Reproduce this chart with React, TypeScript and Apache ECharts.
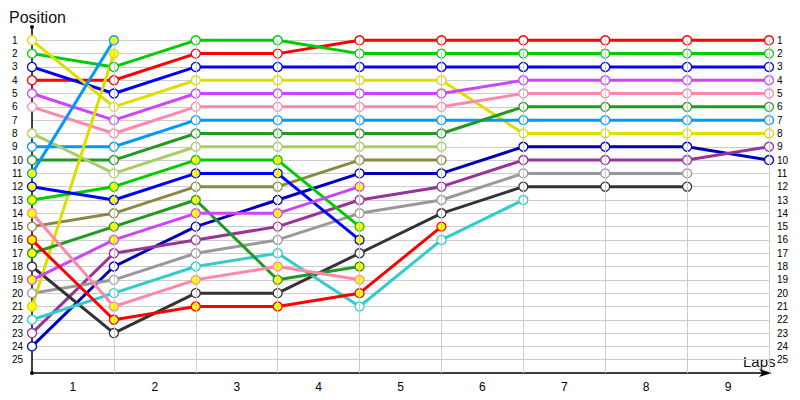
import React, { useEffect, useRef } from 'react';
import * as echarts from 'echarts';

// lap labels (shown between the grid lines) and the points where positions are recorded
const laps = ['1', '2', '3', '4', '5', '6', '7', '8', '9'];
const checkpoints = [0, 1, 2, 3, 4, 5, 6, 7, 8, 9];
const positionTicks = Array.from({ length: 25 }, (_, i) => i + 1);

// position of each car at every checkpoint (null = no longer in the race)
const redCar = [4, 4, 2, 2, 1, 1, 1, 1, 1, 1];
const greenCar = [2, 3, 1, 1, 2, 2, 2, 2, 2, 2];
const blueCar = [3, 5, 3, 3, 3, 3, 3, 3, 3, 3];
const yellowCar = [1, 6, 4, 4, 4, 4, 8, 8, 8, 8];
const magentaCar = [5, 7, 5, 5, 5, 5, 4, 4, 4, 4];
const pinkCar = [6, 8, 6, 6, 6, 6, 5, 5, 5, 5];
const skyCar = [9, 9, 7, 7, 7, 7, 7, 7, 7, 7];
const forestCar = [10, 10, 8, 8, 8, 8, 6, 6, 6, 6];
const limeCar = [8, 11, 9, 9, 9, 9, null, null, null, null];
const oliveCar = [15, 14, 12, 12, 10, 10, null, null, null, null];
const navyCar = [24, 18, 15, 13, 11, 11, 9, 9, 9, 10];
const violetCar = [23, 17, 16, 15, 13, 12, 10, 10, 10, 9];
const greyCar = [20, 19, 17, 16, 14, 13, 11, 11, 11, null];
const charcoalCar = [18, 23, 20, 20, 17, 14, 12, 12, 12, null];
const cyanCar = [22, 20, 18, 17, 21, 16, 13, null, null, null];
// second-class cars (drawn with filled markers)
const skyCar2 = [11, 1, null, null, null, null, null, null, null, null];
const yellowCar2 = [21, 2, null, null, null, null, null, null, null, null];
const greenCar2 = [13, 12, 10, 10, 15, null, null, null, null, null];
const blueCar2 = [12, 13, 11, 11, 16, null, null, null, null, null];
const forestCar2 = [17, 15, 13, 19, 18, null, null, null, null, null];
const magentaCar2 = [19, 16, 14, 14, 12, null, null, null, null, null];
const pinkCar2 = [14, 21, 19, 18, 19, null, null, null, null, null];
const redCar2 = [16, 22, 21, 21, 20, 15, null, null, null, null];

const cars = [
  { name: 'Car 1', pos: redCar, color: '#ff0000', filled: false },
  { name: 'Car 2', pos: greenCar, color: '#00cc00', filled: false },
  { name: 'Car 3', pos: blueCar, color: '#0000ff', filled: false },
  { name: 'Car 4', pos: yellowCar, color: '#dddd00', filled: false },
  { name: 'Car 5', pos: magentaCar, color: '#cc44ff', filled: false },
  { name: 'Car 6', pos: pinkCar, color: '#ff88aa', filled: false },
  { name: 'Car 7', pos: skyCar, color: '#0099ff', filled: false },
  { name: 'Car 8', pos: forestCar, color: '#229922', filled: false },
  { name: 'Car 9', pos: limeCar, color: '#aacc66', filled: false },
  { name: 'Car 10', pos: oliveCar, color: '#888844', filled: false },
  { name: 'Car 11', pos: navyCar, color: '#0000bb', filled: false },
  { name: 'Car 12', pos: violetCar, color: '#993399', filled: false },
  { name: 'Car 13', pos: greyCar, color: '#999999', filled: false },
  { name: 'Car 14', pos: charcoalCar, color: '#333333', filled: false },
  { name: 'Car 15', pos: cyanCar, color: '#33cccc', filled: false },
  { name: 'Car 16', pos: skyCar2, color: '#0099ff', filled: true },
  { name: 'Car 17', pos: yellowCar2, color: '#dddd00', filled: true },
  { name: 'Car 18', pos: greenCar2, color: '#00cc00', filled: true },
  { name: 'Car 19', pos: blueCar2, color: '#0000ff', filled: true },
  { name: 'Car 20', pos: forestCar2, color: '#229922', filled: true },
  { name: 'Car 21', pos: magentaCar2, color: '#cc44ff', filled: true },
  { name: 'Car 22', pos: pinkCar2, color: '#ff88aa', filled: true },
  { name: 'Car 23', pos: redCar2, color: '#ff0000', filled: true },
];

const FONT = 'Liberation Sans';

const App: React.FC = () => {
  const chartRef = useRef<HTMLDivElement>(null);

  useEffect(() => {
    // the chart is laid out in page pixels, so drop the default body margin
    document.body.style.margin = '0';
    const chart = echarts.init(chartRef.current!, null, { renderer: 'svg' });

    const lineSeries = cars.map((c) => ({
      name: c.name,
      type: 'line',
      xAxisIndex: 0,
      yAxisIndex: 0,
      data: c.pos
        .map((p, i) => (p == null ? null : [checkpoints[i], p]))
        .filter((d) => d !== null),
      symbol: 'circle',
      symbolSize: 9,
      showAllSymbol: true,
      lineStyle: { color: c.color, width: 3 },
      itemStyle: {
        color: c.filled ? '#ffff00' : '#ffffff',
        borderColor: c.color,
        borderWidth: 1.3,
      },
      z: 3,
    }));

    // vertical grid lines, from position 1 down to the axis
    const gridSeries = {
      name: 'grid',
      type: 'line',
      data: [],
      silent: true,
      z: 1,
      markLine: {
        silent: true,
        symbol: ['none', 'none'],
        label: { show: false },
        lineStyle: { color: '#cccccc', width: 1, type: 'solid' },
        data: checkpoints.slice(1).map((x) => [{ coord: [x, 1] }, { coord: [x, 26] }]),
      },
    };

    const option = {
      animation: false,
      textStyle: { fontFamily: FONT },
      title: {
        text: 'Position',
        left: 4,
        top: 4,
        textStyle: { fontFamily: FONT, fontSize: 16, fontWeight: 'normal', color: '#111' },
      },
      graphic: [
        {
          type: 'text',
          left: 743,
          top: 354,
          style: { text: 'Laps', font: `15px "${FONT}"`, fill: '#111' },
        },
      ],
      grid: { left: 32, right: 31, top: 27, bottom: 27, containLabel: false },
      xAxis: [
        {
          type: 'value',
          position: 'bottom',
          min: 0,
          max: 9,
          interval: 1,
          axisLabel: { show: false },
          axisTick: { show: false },
          splitLine: { show: false },
          axisLine: {
            onZero: false,
            lineStyle: { color: '#000', width: 1.5 },
            symbol: ['none', 'arrow'],
            symbolSize: [6, 13],
            symbolOffset: [0, 3],
          },
        },
        {
          type: 'category',
          position: 'bottom',
          data: laps,
          boundaryGap: true,
          axisLine: { show: false, onZero: false },
          axisTick: { show: false },
          splitLine: { show: false },
          axisLabel: { margin: 8, fontSize: 12, color: '#000', fontFamily: FONT },
        },
      ],
      yAxis: [
        {
          type: 'value',
          inverse: true,
          min: 0,
          max: 26,
          interval: 1,
          axisTick: { show: false },
          axisLine: {
            onZero: false,
            lineStyle: { color: '#000', width: 1.5 },
            symbol: ['circle', 'circle'],
            symbolSize: [4, 4],
          },
          splitLine: {
            show: true,
            showMinLine: false,
            showMaxLine: false,
            lineStyle: { color: '#cccccc', width: 1 },
          },
          axisLabel: {
            align: 'left',
            margin: 20,
            fontSize: 10,
            color: '#000',
            fontFamily: FONT,
            formatter: (v: number) => (positionTicks.includes(v) ? String(v) : ''),
          },
        },
        {
          type: 'value',
          position: 'right',
          inverse: true,
          min: 0,
          max: 26,
          interval: 1,
          axisTick: { show: false },
          axisLine: { show: false, onZero: false },
          splitLine: { show: false },
          axisLabel: {
            align: 'left',
            margin: 8,
            fontSize: 10,
            color: '#000',
            fontFamily: FONT,
            formatter: (v: number) => (positionTicks.includes(v) ? String(v) : ''),
          },
        },
      ],
      series: [gridSeries, ...lineSeries],
    };

    chart.setOption(option);

    return () => {
      chart.dispose();
    };
  }, []);

  return <div ref={chartRef} style={{ width: '800px', height: '400px' }} />;
};

export default App;
